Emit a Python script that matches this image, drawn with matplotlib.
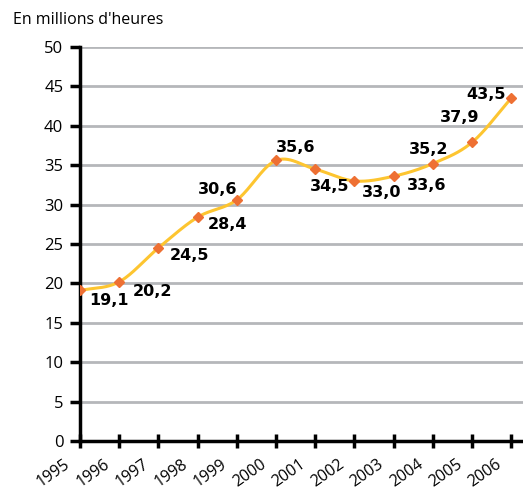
import numpy as np
import matplotlib
matplotlib.use("Agg")
import matplotlib.pyplot as plt
import matplotlib.transforms as mtrans

years = ["1995", "1996", "1997", "1998", "1999", "2000", "2001", "2002", "2003", "2004", "2005", "2006"]
values = [19.1, 20.2, 24.5, 28.4, 30.6, 35.6, 34.5, 33.0, 33.6, 35.2, 37.9, 43.5]
value_labels = ["19,1", "20,2", "24,5", "28,4", "30,6", "35,6", "34,5", "33,0", "33,6", "35,2", "37,9", "43,5"]
label_offsets_px = [(29, -10), (33, -10), (31, -8), (30, -7), (-19, 10), (20, 13),
                    (14, -17), (27, -12), (33, -9), (-4, 14), (-12, 25), (-25, 4)]

def catmull_rom(x, y, n=30):
    x = np.asarray(x, float); y = np.asarray(y, float)
    px = np.concatenate([[2 * x[0] - x[1]], x, [2 * x[-1] - x[-2]]])
    py = np.concatenate([[2 * y[0] - y[1]], y, [2 * y[-1] - y[-2]]])
    xs, ys = [], []
    for i in range(1, len(px) - 2):
        t = np.linspace(0, 1, n, endpoint=False)
        for arr, out in ((px, xs), (py, ys)):
            p0, p1, p2, p3 = arr[i - 1], arr[i], arr[i + 1], arr[i + 2]
            out.append(0.5 * ((2 * p1) + (-p0 + p2) * t + (2 * p0 - 5 * p1 + 4 * p2 - p3) * t ** 2
                              + (-p0 + 3 * p1 - 3 * p2 + p3) * t ** 3))
    xs.append([x[-1]]); ys.append([y[-1]])
    return np.concatenate(xs), np.concatenate(ys)

W, H = 523, 492
fig = plt.figure(figsize=(W / 100, H / 100), dpi=100)
ax = fig.add_axes([80 / W, 1 - 441 / H, (W - 80) / W, (441 - 47) / H])

x = np.arange(len(values))
sx, sy = catmull_rom(x, values)
ax.plot(sx, sy, color="#FDC530", lw=2.2, zorder=3)
ax.plot(x, values, linestyle="none", marker="D", ms=5, color="#EE7033", zorder=4)

for xi, v, lab, (dx, dy) in zip(x, values, value_labels, label_offsets_px):
    ax.annotate(lab, (xi, v), xytext=(dx, dy), textcoords="offset pixels",
                ha="center", va="center", fontsize=11.5, fontweight="bold",
                family="DejaVu Sans", color="black", zorder=5)

ax.set_xlim(0, 11.3)
ax.set_ylim(0, 50)
ax.set_yticks(np.arange(0, 51, 5))
ax.yaxis.grid(True, color="#B5B7BA", lw=2)
ax.set_axisbelow(True)
ax.set_xticks(x)
ax.set_xticklabels(years, rotation=35, ha="right", va="top", rotation_mode="anchor",
                   fontsize=11.5, family="Open Sans")
ax.tick_params(axis="x", direction="inout", length=10, width=2.5, pad=6)
ax.tick_params(axis="y", direction="out", length=7, width=2.5, pad=5, labelsize=12)
for t in ax.get_yticklabels():
    t.set_family("Open Sans")
for s in ["top", "right"]:
    ax.spines[s].set_visible(False)
ax.spines["left"].set_linewidth(2.5)
ax.spines["bottom"].set_linewidth(2.5)

offset = mtrans.ScaledTranslation(-16 / 100, 0, fig.dpi_scale_trans)
for t in ax.get_xticklabels():
    t.set_transform(t.get_transform() + offset)

fig.text(13 / W, 1 - 20 / H, "En millions d'heures", fontsize=11.5, family="Open Sans",
         ha="left", va="center")

fig.savefig("out.png", dpi=100)
